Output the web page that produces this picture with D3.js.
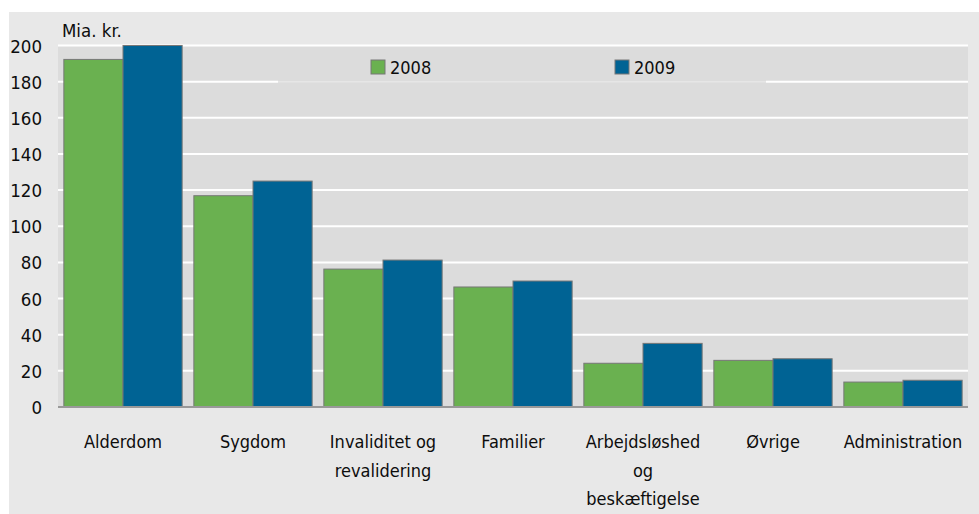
<!DOCTYPE html>
<html lang="da">
  <head>
    <meta charset="utf-8">
    <title>Sociale udgifter</title>
    <script src="https://d3js.org/d3.v7.min.js"></script>
    <style>
      body { margin: 0; background: #fff; }
      svg text { font-family: "DejaVu Sans Condensed", "DejaVu Sans", sans-serif; font-stretch: condensed; fill: #0d0d0d; }
    </style>
  </head>
  <body>
    <div id="container"></div>
    <script>
      width = 979;
      height = 514;
      margin = ({top: 45.5, right: 11, bottom: 107, left: 58});

      categories = [
        ["Alderdom"],
        ["Sygdom"],
        ["Invaliditet og", "revalidering"],
        ["Familier"],
        ["Arbejdsløshed", "og", "beskæftigelse"],
        ["Øvrige"],
        ["Administration"]
      ];
      years = ["2008", "2009"];
      values2008 = [192.3, 116.9, 76.3, 66.4, 24.2, 25.8, 13.8];
      values2009 = [200, 125, 81.3, 69.7, 35.2, 26.7, 14.8];
      yTicks = [0, 20, 40, 60, 80, 100, 120, 140, 160, 180, 200];
      colors = ["#6ab150", "#006394"];

      series = [values2008, values2009];

      x = d3.scaleBand()
        .domain(d3.range(categories.length))
        .range([margin.left, width - margin.right])
        .paddingInner(0.09)
        .paddingOuter(0.045);
      xs = d3.scaleBand()
        .domain(d3.range(years.length))
        .range([0, x.bandwidth()]);
      y = d3.scaleLinear()
        .domain([0, 200])
        .range([height - margin.bottom, margin.top]);

      chart = (function(){
        const svg = d3.create("svg")
            .attr("width", width)
            .attr("height", height)
            .attr("viewBox", [0, 0, width, height]);

        // outer panel
        svg.append("rect")
            .attr("x", 9).attr("y", 12)
            .attr("width", width - 9).attr("height", height - 12)
            .attr("fill", "#e8e8e8");

        // plot area
        svg.append("rect")
            .attr("x", margin.left).attr("y", y(200))
            .attr("width", width - margin.right - margin.left)
            .attr("height", y(0) - y(200))
            .attr("fill", "#dcdcdc");

        // grid
        svg.append("g")
          .selectAll("line")
          .data(yTicks.filter(d => d > 0))
          .join("line")
            .attr("x1", margin.left).attr("x2", width - margin.right)
            .attr("y1", d => y(d)).attr("y2", d => y(d))
            .attr("stroke", "#fff")
            .attr("stroke-width", 2);

        // legend box (hides the 180 line, leaving a faint trace)
        const lg = svg.append("g");
        lg.append("rect")
            .attr("x", 278).attr("y", 48)
            .attr("width", 488).attr("height", 36)
            .attr("fill", "#dcdcdc");
        lg.append("line")
            .attr("x1", 278).attr("x2", 766)
            .attr("y1", y(180)).attr("y2", y(180))
            .attr("stroke", "#e6e6e6")
            .attr("stroke-width", 1.5);
        const li = lg.selectAll("g")
          .data(years)
          .join("g")
            .attr("transform", (d, i) => `translate(${371 + i * 244},60)`);
        li.append("rect")
            .attr("width", 14).attr("height", 14)
            .attr("fill", (d, i) => colors[i])
            .attr("stroke", "#777").attr("stroke-width", 1);
        li.append("text")
            .attr("x", 19).attr("y", 14)
            .attr("font-size", 18)
            .text(d => d);

        // bars
        svg.append("g")
          .selectAll("g")
          .data(series)
          .join("g")
            .attr("fill", (d, i) => colors[i])
          .selectAll("rect")
          .data((d, si) => d.map((v, i) => ({v, i, si})))
          .join("rect")
            .attr("x", d => x(d.i) + xs(d.si))
            .attr("y", d => y(d.v))
            .attr("width", xs.bandwidth())
            .attr("height", d => y(0) - y(d.v))
            .attr("stroke", "#777")
            .attr("stroke-width", 1);

        // axis line
        svg.append("line")
            .attr("x1", margin.left).attr("x2", width - margin.right)
            .attr("y1", y(0)).attr("y2", y(0))
            .attr("stroke", "#999")
            .attr("stroke-width", 2);

        // y labels
        svg.append("g")
          .selectAll("text")
          .data(yTicks)
          .join("text")
            .attr("x", 42)
            .attr("y", d => y(d))
            .attr("dy", "0.38em")
            .attr("text-anchor", "end")
            .attr("font-size", 18.5)
            .text(d => d);

        svg.append("text")
            .attr("x", 62).attr("y", 37)
            .attr("font-size", 18.5)
            .text("Mia. kr.");

        // category labels
        svg.append("g")
          .selectAll("text")
          .data(categories)
          .join("text")
            .attr("text-anchor", "middle")
            .attr("font-size", 18)
            .attr("transform", (d, i) => `translate(${x(i) + x.bandwidth() / 2},448)`)
          .selectAll("tspan")
          .data(d => d)
          .join("tspan")
            .attr("x", 0)
            .attr("y", (d, i) => i * 28.5)
            .text(d => d);

        return svg.node();
      })();

      d3.select("#container").append(() => chart);
    </script>
  </body>
</html>
